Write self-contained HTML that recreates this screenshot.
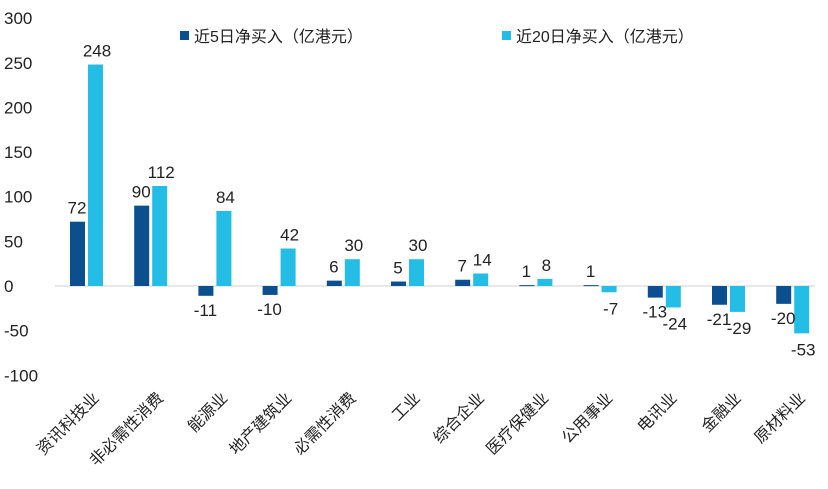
<!DOCTYPE html>
<html><head><meta charset="utf-8"><style>
body{margin:0;background:#fff;}
svg{display:block;font-family:"Liberation Sans","Noto Sans CJK SC",sans-serif;}
</style></head><body>
<svg id="chart" width="828" height="489">
<g id="yaxis"></g>
<line x1="55" x2="815" y1="286" y2="286" stroke="#d0d0d0" stroke-width="1"/>
<g id="bars"></g>
<g id="xlabels"></g>
<g>
<g><rect x="180" y="31" width="9" height="9" fill="#0b4f8f"/><text x="194" y="42" font-size="16" fill="#222">近5日净买入（亿港元）</text></g>
<g><rect x="502" y="31" width="9" height="9" fill="#23bde6"/><text x="516" y="42" font-size="16" fill="#222">近20日净买入（亿港元）</text></g>
</g>
</svg>
<script>
const categories=["资讯科技业","非必需性消费","能源业","地产建筑业","必需性消费","工业","综合企业","医疗保健业","公用事业","电讯业","金融业","原材料业"];
const series5=[72,90,-11,-10,6,5,7,1,1,-13,-21,-20];
const series20=[248,112,84,42,30,30,14,8,-7,-24,-29,-53];
const ticks=[300,250,200,150,100,50,0,-50,-100];
const NS="http://www.w3.org/2000/svg";
function y(v){return 286-v*0.893;}
function xc(i){return 87+i*64.2;}
function el(t,a,p){const e=document.createElementNS(NS,t);for(const k in a)e.setAttribute(k,a[k]);p.appendChild(e);return e;}
const ya=document.getElementById('yaxis'),bars=document.getElementById('bars'),xl=document.getElementById('xlabels');
ticks.forEach(t=>{const e=el('text',{x:4,y:y(t)+6,'font-size':17,fill:'#222'},ya);e.textContent=t;

});
categories.forEach((c,i)=>{
 const cx=xc(i);
 const v1=series5[i],v2=series20[i];
 const r1=el('rect',{x:cx-17,y:Math.min(y(v1),y(0)),width:15,height:Math.max(Math.abs(y(v1)-y(0)),1),fill:'#0b4f8f'},bars);
 
 
 const r2=el('rect',{x:cx+1,y:Math.min(y(v2),y(0)),width:15,height:Math.max(Math.abs(y(v2)-y(0)),1),fill:'#23bde6'},bars);
 
 
 const t=el('text',{x:cx-10,y:v1>=0?y(v1)-8:y(v1)+20,'font-size':17,fill:'#222','text-anchor':'middle'},bars);t.textContent=v1;
 
 
 const t2=el('text',{x:cx+10,y:v2>=0?y(v2)-8:y(v2)+22,'font-size':17,fill:'#222','text-anchor':'middle'},bars);t2.textContent=v2;
 
 
 const lx=cx+13,ly=399;
 const l=el('text',{x:lx,y:ly,'font-size':16,fill:'#222','text-anchor':'end',transform:`rotate(-45 ${lx} ${ly})`},xl);l.textContent=c;
 
 
});
</script>
</body></html>
